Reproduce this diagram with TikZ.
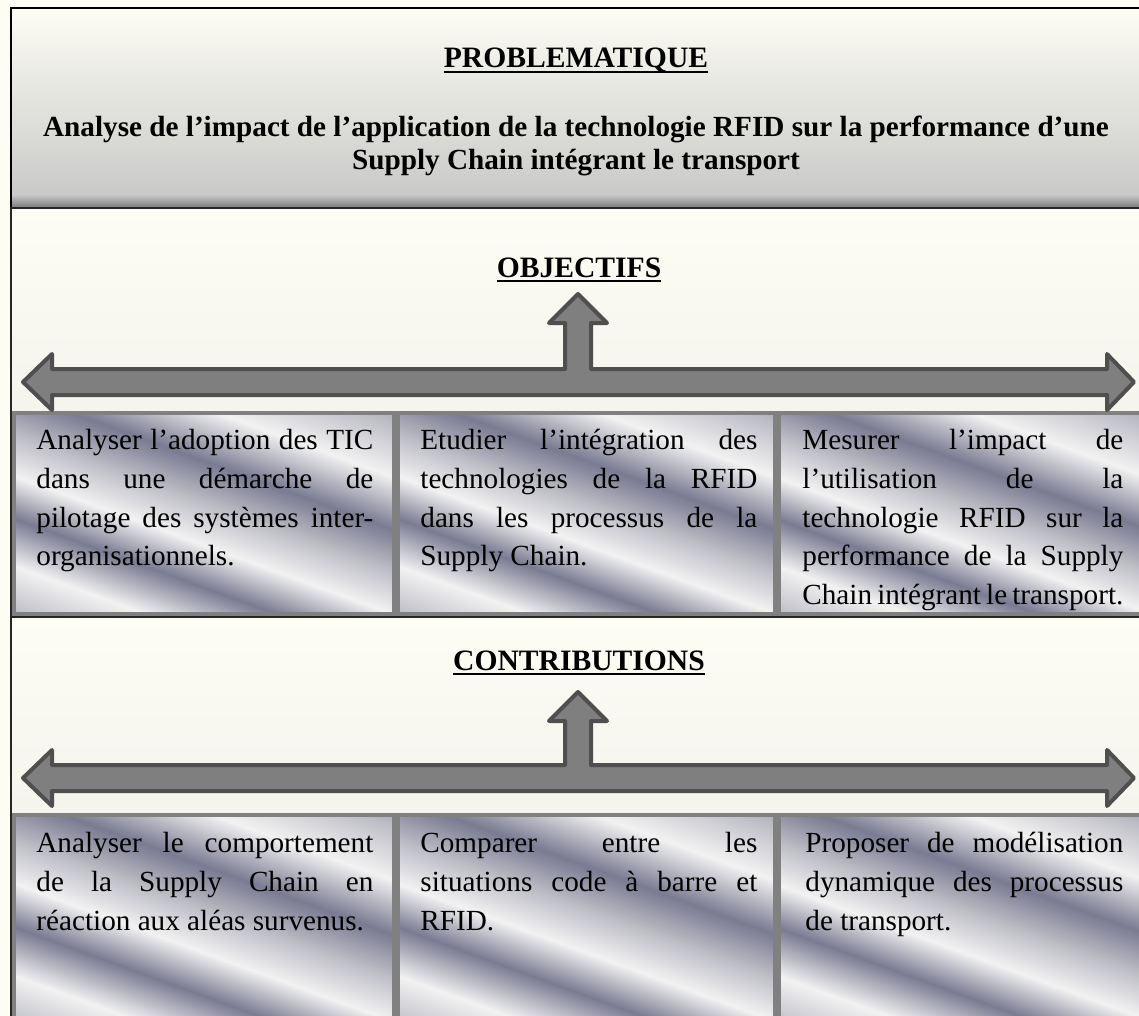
\documentclass[tikz,border=0pt]{standalone}
\usepackage{fontspec}
\setmainfont{Liberation Serif}
\usetikzlibrary{positioning}

\definecolor{ivory}{HTML}{FDFDF4}
\definecolor{panelgrey}{HTML}{ECEBE6}
\definecolor{probgrey}{HTML}{C6C6C6}
\definecolor{boxgrey}{HTML}{808080}
\definecolor{arrowfill}{HTML}{7F7F7F}
\definecolor{arrowline}{HTML}{4F4F4F}
\definecolor{mlight}{HTML}{F2F2F2}
\definecolor{mmid}{HTML}{BDBDC6}
\definecolor{mdark}{HTML}{7A7A92}

\pgfdeclarehorizontalshading{metal}{100bp}{color(0bp)=(mlight); color(10bp)=(mdark); color(18bp)=(mmid); color(27bp)=(mlight); color(36bp)=(mdark); color(44bp)=(mlight); color(52bp)=(mmid); color(60bp)=(mdark); color(70bp)=(mlight); color(80bp)=(mmid); color(90bp)=(mdark); color(100bp)=(mlight)}

% bold title with a heavier underline
\newcommand\titleline[1]{\setbox0\hbox{#1}\rlap{\rule[-2.7pt]{\wd0}{1.2pt}}\box0}
% justified paragraph for the box texts
\newcommand\boxpar[1]{\fontsize{14.6}{19.35}\selectfont\hyphenpenalty=10000\relax
  \leftskip=0pt\relax\rightskip=0pt\relax\spaceskip=0pt\relax\xspaceskip=0pt\relax
  \parfillskip=0pt plus 1fil\relax #1\par}

\tikzset{
  probbox/.style={draw=black, line width=1.2pt, top color=ivory, bottom color=probgrey, inner sep=0pt, outer sep=0pt, anchor=north west},
  panel/.style={draw=black!85, line width=1pt, top color=ivory, bottom color=panelgrey, inner sep=0pt, outer sep=0pt, anchor=north west},
  metalbox/.style={draw=boxgrey, line width=2.25pt, shading=metal, shading angle=70, inner sep=0pt, outer sep=0pt, anchor=north west},
  objbox/.style={metalbox, minimum height=100.5pt},
  contbox/.style={metalbox, minimum height=105pt},
  titletext/.style={font=\fontsize{14.8}{16.5}\selectfont\bfseries, inner sep=0pt, anchor=base},
  body/.style={text width=#1, inner sep=0pt, anchor=north west},
  blockarrow/.style={draw=arrowline, fill=arrowfill, line width=2pt, line join=round}
}

\begin{document}
\begin{tikzpicture}[x=0.5pt, y=-0.5pt]
  \useasboundingbox (0,0) rectangle (1139,1016);
  \fill[ivory] (0,0) rectangle (1139,1016);

  % problematique
  \node[probbox, minimum width=565pt, minimum height=100pt] (prob) at (11,8) {};
  \shade[top color=probgrey, bottom color=black!50] ([shift={(1,-13)}]prob.south west) rectangle ([shift={(-1,-1)}]prob.south east);
  \node[titletext] (probtitle) at (576,68) {\titleline{PROBLEMATIQUE}};
  \node[titletext, font=\fontsize{14.6}{16.5}\selectfont\bfseries, align=center, anchor=north] (probtext) at (576,116)
    {Analyse de l’impact de l’application de la technologie RFID sur la performance d’une\\Supply Chain intégrant le transport};

  % objectifs
  \node[panel, minimum width=565pt, minimum height=204.5pt] (objpanel) at (11,208) {};
  \node[titletext] (objtitle) at (579,277) {\titleline{OBJECTIFS}};
  \node[objbox, minimum width=190pt] (obj1box) at (14,413) {};
  \node[objbox, minimum width=188.5pt] (obj2box) at (398,413) {};
  \node[objbox, minimum width=183pt] (obj3box) at (779,413) {};

  \node[body=168.5pt] (obj1) at ([shift={(22,16)}]obj1box.north west)
    {\boxpar{Analyser l’adoption des TIC\linebreak dans une démarche de\linebreak pilotage des systèmes inter-\linebreak organisationnels.}};
  \node[body=168.5pt] (obj2) at ([shift={(22,16)}]obj2box.north west)
    {\boxpar{Etudier l’intégration des\linebreak technologies de la RFID\linebreak dans les processus de la\linebreak Supply Chain.}};
  \node[body=160.5pt] (obj3) at ([shift={(23,16)}]obj3box.north west)
    {\boxpar{Mesurer l’impact de\linebreak l’utilisation de la\linebreak technologie RFID sur la\linebreak performance de la Supply\linebreak Chain intégrant le transport.}};

  % contributions
  \node[panel, minimum width=565pt, minimum height=201.5pt] (contpanel) at (11,617) {};
  \node[titletext] (conttitle) at (579,670) {\titleline{CONTRIBUTIONS}};
  \node[contbox, minimum width=190pt] (cont1box) at (14,815) {};
  \node[contbox, minimum width=188.5pt] (cont2box) at (398,815) {};
  \node[contbox, minimum width=183pt] (cont3box) at (779,815) {};

  \node[body=168.5pt] (cont1) at ([shift={(22,17)}]cont1box.north west)
    {\boxpar{Analyser le comportement\linebreak de la Supply Chain en\linebreak réaction aux aléas survenus.}};
  \node[body=168.5pt] (cont2) at ([shift={(22,17)}]cont2box.north west)
    {\boxpar{Comparer entre les\linebreak situations code à barre et\linebreak RFID.}};
  \node[body=159pt] (cont3) at ([shift={(26,17)}]cont3box.north west)
    {\boxpar{Proposer de modélisation\linebreak dynamique des processus\linebreak de transport.}};

  % block arrows: shaft centre / tip of the up arrow
  \foreach \c/\t in {382/294, 778/692}
    \draw[blockarrow] (23,\c) -- (52,{\c-28}) -- (52,{\c-13}) -- (565,{\c-13}) -- (565,{\t+29})
      -- (549,{\t+29}) -- (578,\t) -- (607,{\t+29}) -- (591,{\t+29}) -- (591,{\c-13})
      -- (1107,{\c-13}) -- (1107,{\c-28}) -- (1134,\c) -- (1107,{\c+28}) -- (1107,{\c+13})
      -- (52,{\c+13}) -- (52,{\c+28}) -- cycle;
\end{tikzpicture}
\end{document}
